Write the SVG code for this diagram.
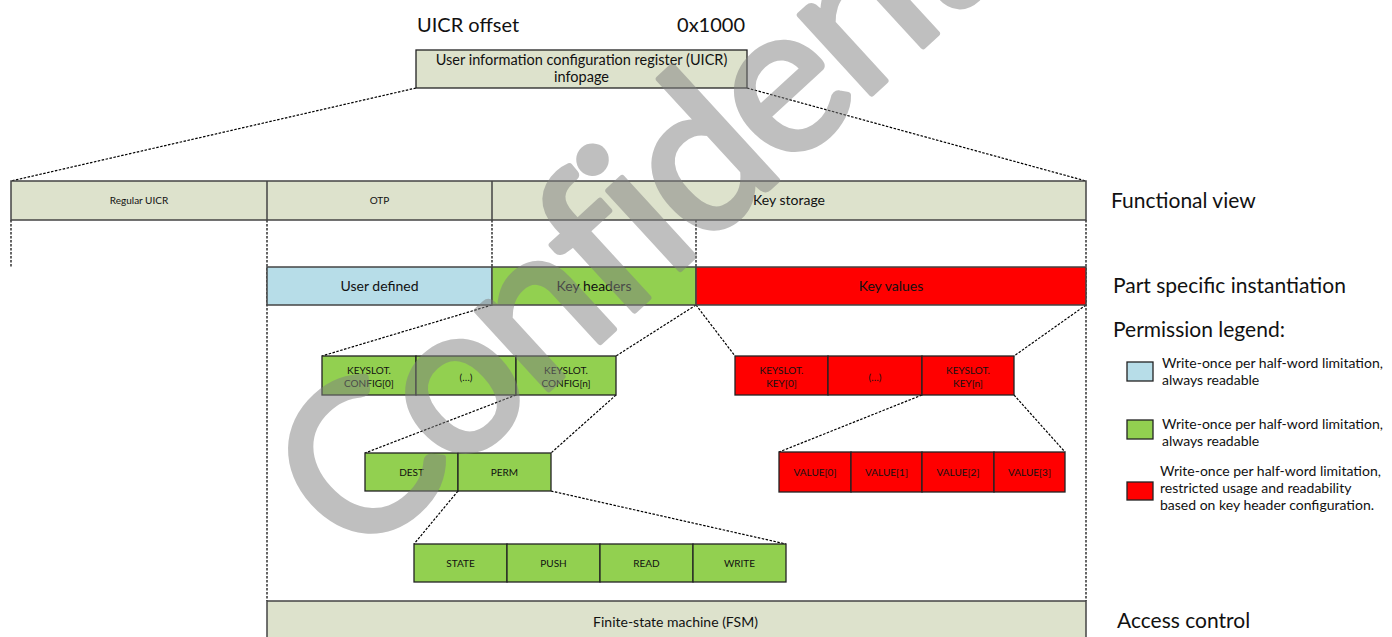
<svg xmlns="http://www.w3.org/2000/svg" width="1392" height="637" viewBox="0 0 1392 637">
<style>
text{font-family:Lato,"Open Sans","Liberation Sans",sans-serif;fill:#111}
.c{text-anchor:middle}
.s9{font-size:10px}
.s10{font-size:10px}
.s14{font-size:14px}
.s20{font-size:20px}
.s21{font-size:21px}
.lg{font-size:14px}
.bar{stroke:#444;stroke-width:1.5}
.box{stroke:#222;stroke-width:1.3}
.tan{fill:#dde2cc}
.blue{fill:#b7dde8}
.green{fill:#92d050}
.red{fill:#ff0000}
.dot{fill:none;stroke:#000;stroke-width:1.2;stroke-dasharray:2.5 1.5}
.wm{font-size:210px;letter-spacing:-6px;fill:#808080;stroke:#808080;stroke-width:6;stroke-linejoin:round}
</style>
<rect width="1392" height="637" fill="#fff"/>

<g id="connectors">
<path class="dot" d="M416 88 L11 181 M747 88 L1086 181"/>
<path class="dot" d="M11 220 V267 M267 220 V601 M492 220 V267 M696 220 V267 M1086 220 V601"/>
<path class="dot" d="M492 305 L322 356 M696 305 L616 356"/>
<path class="dot" d="M696 305 L735 356 M1086 305 L1014 356"/>
<path class="dot" d="M516 395 L365 453 M616 395 L551 453"/>
<path class="dot" d="M922 395 L779 452 M1014 395 L1065 452"/>
<path class="dot" d="M458 491 L414 544 M551 491 L786 544"/>
</g>

<g id="title">
<text class="s20" x="417" y="32">UICR offset</text>
<text class="s20" x="745" y="32" text-anchor="end">0x1000</text>
</g>

<g id="uicr">
<rect class="tan box" x="416" y="50" width="331" height="38"/>
<text class="c" style="font-size:14.5px" x="581.5" y="65">User information configuration register (UICR)</text>
<text class="c" style="font-size:14.5px" x="581.5" y="82">infopage</text>
</g>

<g id="functional">
<rect class="tan bar" x="11" y="181" width="1075" height="39"/>
<path class="bar" d="M267 181 V220 M492 181 V220"/>
<text class="s9 c" x="139" y="204">Regular UICR</text>
<text class="s9 c" x="379.5" y="204">OTP</text>
<text class="s14 c" x="789" y="205">Key storage</text>
</g>

<g id="instantiation">
<rect class="blue bar" x="267" y="267" width="225" height="38"/>
<rect class="green bar" x="492" y="267" width="204" height="38"/>
<rect class="red bar" x="696" y="267" width="390" height="38"/>
<text class="s14 c" x="379.5" y="291">User defined</text>
<text class="s14 c" x="594" y="291">Key headers</text>
<text class="s14 c" x="891" y="291">Key values</text>
</g>

<g id="keyslot-config">
<rect class="green box" x="322" y="356" width="94" height="39"/>
<rect class="green box" x="416" y="356" width="100" height="39"/>
<rect class="green box" x="516" y="356" width="100" height="39"/>
<text class="s10 c" x="369" y="374">KEYSLOT.</text>
<text class="s10 c" x="369" y="387">CONFIG[0]</text>
<text class="s10 c" x="466" y="381">(…)</text>
<text class="s10 c" x="566" y="374">KEYSLOT.</text>
<text class="s10 c" x="566" y="387">CONFIG[n]</text>
</g>

<g id="keyslot-key">
<rect class="red box" x="735" y="356" width="93" height="39"/>
<rect class="red box" x="828" y="356" width="94" height="39"/>
<rect class="red box" x="922" y="356" width="92" height="39"/>
<text class="s10 c" x="781.5" y="374">KEYSLOT.</text>
<text class="s10 c" x="781.5" y="387">KEY[0]</text>
<text class="s10 c" x="875" y="381">(…)</text>
<text class="s10 c" x="968" y="374">KEYSLOT.</text>
<text class="s10 c" x="968" y="387">KEY[n]</text>
</g>

<g id="config-fields">
<rect class="green box" x="365" y="453" width="93" height="38"/>
<rect class="green box" x="458" y="453" width="93" height="38"/>
<text class="s10 c" x="411.5" y="476">DEST</text>
<text class="s10 c" x="504.5" y="476">PERM</text>
</g>

<g id="values">
<rect class="red box" x="779" y="452" width="72" height="40"/>
<rect class="red box" x="851" y="452" width="71" height="40"/>
<rect class="red box" x="922" y="452" width="72" height="40"/>
<rect class="red box" x="994" y="452" width="71" height="40"/>
<text class="s10 c" x="815" y="476">VALUE[0]</text>
<text class="s10 c" x="886.5" y="476">VALUE[1]</text>
<text class="s10 c" x="958" y="476">VALUE[2]</text>
<text class="s10 c" x="1029.5" y="476">VALUE[3]</text>
</g>

<g id="perm-fields">
<rect class="green box" x="414" y="544" width="93" height="38"/>
<rect class="green box" x="507" y="544" width="93" height="38"/>
<rect class="green box" x="600" y="544" width="93" height="38"/>
<rect class="green box" x="693" y="544" width="93" height="38"/>
<text class="s10 c" x="460.5" y="567">STATE</text>
<text class="s10 c" x="553.5" y="567">PUSH</text>
<text class="s10 c" x="646.5" y="567">READ</text>
<text class="s10 c" x="739.5" y="567">WRITE</text>
</g>

<g id="fsm">
<rect class="tan bar" x="267" y="601" width="819" height="40"/>
<text class="c" style="font-size:14px" x="675.5" y="627">Finite-state machine (FSM)</text>
</g>

<g id="labels">
<text class="s21" x="1111" y="208">Functional view</text>
<text class="s21" x="1113" y="293">Part specific instantiation</text>
<text class="s21" x="1113" y="337">Permission legend:</text>
<text class="s21" x="1117" y="628">Access control</text>
</g>

<g id="legend">
<rect class="blue box" x="1127" y="362" width="26" height="19"/>
<text class="lg" x="1162" y="368">Write-once per half-word limitation,</text>
<text class="lg" x="1162" y="385">always readable</text>
<rect class="green box" x="1127" y="420" width="26" height="19"/>
<text class="lg" x="1162" y="429">Write-once per half-word limitation,</text>
<text class="lg" x="1162" y="446">always readable</text>
<rect class="red box" x="1127" y="482" width="26" height="18"/>
<text class="lg" x="1160" y="476">Write-once per half-word limitation,</text>
<text class="lg" x="1160" y="493">restricted usage and readability</text>
<text class="lg" x="1160" y="510">based on key header configuration.</text>
</g>

<g id="watermark" opacity="0.5">
<text class="wm" x="357" y="565" transform="rotate(-42.5 357 565)">Confidential</text>
</g>
</svg>
